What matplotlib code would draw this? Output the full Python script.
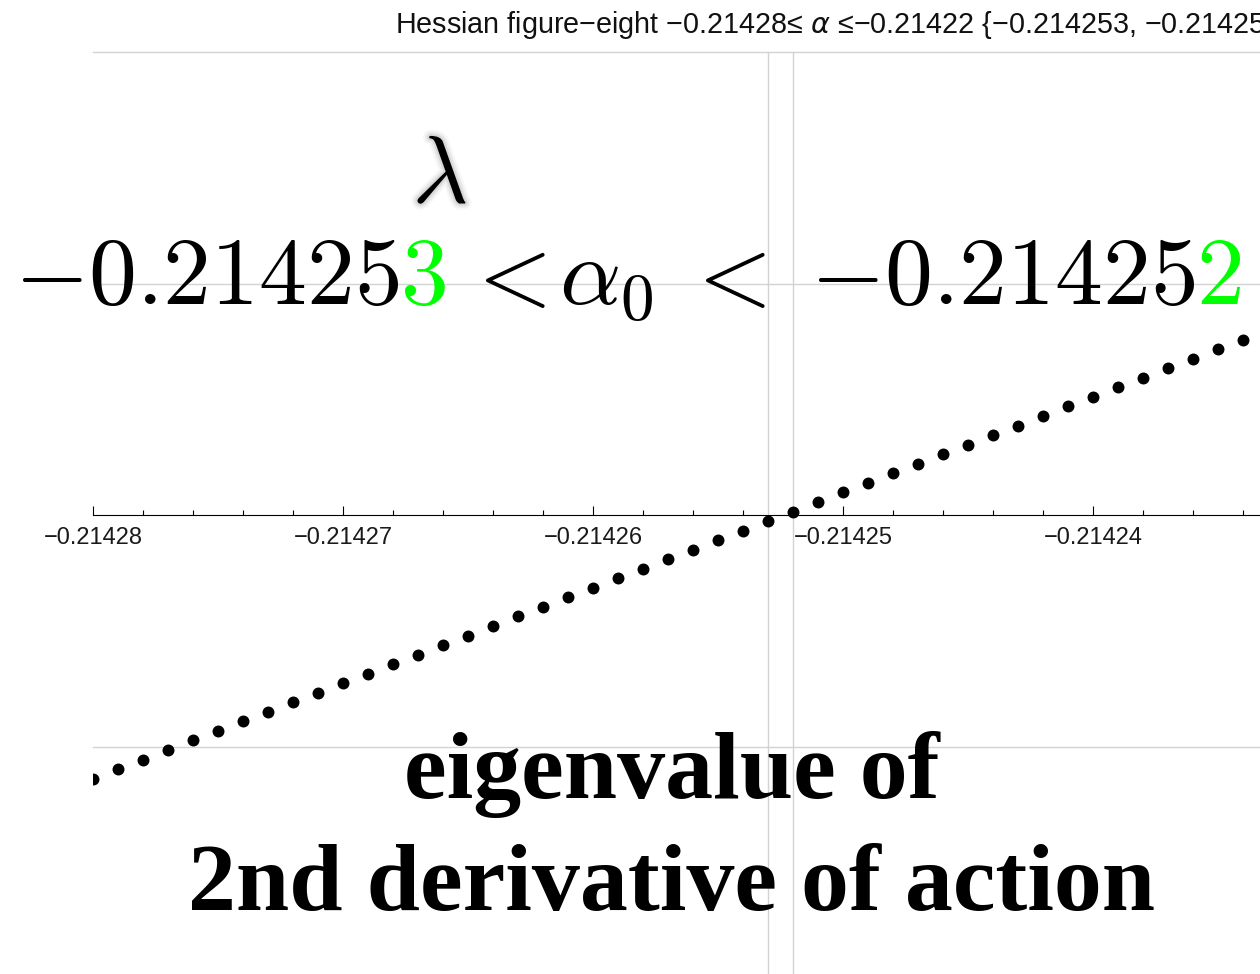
import matplotlib
matplotlib.use("Agg")
import matplotlib.pyplot as plt
import matplotlib.patheffects as pe
from matplotlib.ticker import FixedLocator, FixedFormatter

# ---- data -------------------------------------------------------------
alpha = [
    -0.214280, -0.214279, -0.214278, -0.214277, -0.214276, -0.214275,
    -0.214274, -0.214273, -0.214272, -0.214271, -0.214270, -0.214269,
    -0.214268, -0.214267, -0.214266, -0.214265, -0.214264, -0.214263,
    -0.214262, -0.214261, -0.214260, -0.214259, -0.214258, -0.214257,
    -0.214256, -0.214255, -0.214254, -0.214253, -0.214252, -0.214251,
    -0.214250, -0.214249, -0.214248, -0.214247, -0.214246, -0.214245,
    -0.214244, -0.214243, -0.214242, -0.214241, -0.214240, -0.214239,
    -0.214238, -0.214237, -0.214236, -0.214235, -0.214234,
]
eigenvalue = [
    -1.139, -1.098, -1.057, -1.015, -0.974, -0.933, -0.892, -0.851, -0.809,
    -0.768, -0.727, -0.686, -0.644, -0.603, -0.562, -0.521, -0.480, -0.438,
    -0.397, -0.356, -0.315, -0.273, -0.232, -0.191, -0.150, -0.109, -0.067,
    -0.026, 0.015, 0.056, 0.098, 0.139, 0.180, 0.221, 0.262, 0.304, 0.345,
    0.386, 0.427, 0.469, 0.510, 0.551, 0.592, 0.633, 0.675, 0.716, 0.757,
]
x_major = [-0.21428, -0.21427, -0.21426, -0.21425, -0.21424, -0.21423, -0.21422]
x_major_labels = ["\u22120.21428", "\u22120.21427", "\u22120.21426", "\u22120.21425",
                  "\u22120.21424", "\u22120.21423", "\u22120.21422"]
grid_alpha = [-0.214253, -0.214252]
grid_lambda = [2, 1, -1]
alpha_range = (-0.21428, -0.21422)
lambda_range = (-2, 2)

title = ("Hessian figure\u2212eight \u22120.21428\u2264 $\\alpha$ \u2264\u22120.21422 "
         "{\u22120.214253, \u22120.214252}")

# ---- figure -----------------------------------------------------------
W, H, DPI = 1260, 974, 100
plt.rcParams["mathtext.fontset"] = "cm"
fig = plt.figure(figsize=(W / DPI, H / DPI), dpi=DPI)
fig.patch.set_facecolor("white")


def px(x, y):
    """pixel position (from top-left) -> figure fraction"""
    return x / W, 1 - y / H


ax = fig.add_axes([93 / W, -4 / H, 1500 / W, 926 / H])
ax.set_xlim(*alpha_range)
ax.set_ylim(*lambda_range)
ax.patch.set_alpha(0)

grid_kw = dict(color="#d2d2d2", lw=1.0, zorder=1, clip_on=False)
for g in grid_lambda:
    ax.axhline(g, **grid_kw)
for g in grid_alpha:
    ax.axvline(g, **grid_kw)

ax.scatter(alpha, eigenvalue, s=74, color="black", zorder=3, linewidths=0)

for side in ("top", "left", "right"):
    ax.spines[side].set_visible(False)
ax.spines["bottom"].set_position(("data", 0))
ax.spines["bottom"].set_linewidth(0.8)
ax.spines["bottom"].set_zorder(2)
ax.yaxis.set_visible(False)

ax.xaxis.set_major_locator(FixedLocator(x_major))
ax.xaxis.set_major_formatter(FixedFormatter(x_major_labels))
minor = []
for a, b in zip(x_major[:-1], x_major[1:]):
    minor += [a + (b - a) * k / 5 for k in range(1, 5)]
ax.xaxis.set_minor_locator(FixedLocator(minor))
ax.tick_params(axis="x", which="major", direction="in", length=6.5, width=0.8,
               pad=9, labelsize=17, labelcolor="#1a1a1a")
ax.tick_params(axis="x", which="minor", direction="in", length=3.6, width=0.8)
for lab in ax.get_xticklabels():
    lab.set_fontfamily("Liberation Sans")

# ---- texts ------------------------------------------------------------
fig.text(*px(395, 33), title, ha="left", va="baseline", fontsize=20.7,
         family="Liberation Sans", math_fontfamily="dejavusans", color="#111111")

glow = [pe.Stroke(linewidth=9, foreground="#000000", alpha=0.03),
        pe.Stroke(linewidth=6, foreground="#000000", alpha=0.05),
        pe.Stroke(linewidth=3, foreground="#000000", alpha=0.08),
        pe.Normal()]
fig.text(*px(440, 203), r"$\lambda$", ha="center", va="baseline", fontsize=69,
         path_effects=glow)

# bound on alpha_0, the changing last digits in green
renderer = fig.canvas.get_renderer()
big = 69
pieces = [(r"$-0.21425$", "black", 0),
          (r"$3$", "#00ff00", 0),
          (r"$<$", "black", 16),
          (r"$\alpha_0$", "black", 12),
          (r"$<$", "black", 28),
          (r"$-0.21425$", "black", 44),
          (r"$2$", "#00ff00", 0)]
x_cursor = 14.0
for s, c, gap in pieces:
    x_cursor += gap
    t = fig.text(*px(x_cursor, 304), s, ha="left", va="baseline", fontsize=big,
                 color=c, zorder=5)
    bb = t.get_window_extent(renderer)
    x_cursor += bb.width

serif = dict(ha="center", va="baseline", fontsize=69, family="Liberation Serif",
             weight="bold", color="black")
fig.text(*px(672, 798), "eigenvalue of", **serif)
fig.text(*px(672, 910), "2nd derivative of action", **serif)

fig.savefig("out.png", dpi=DPI)
